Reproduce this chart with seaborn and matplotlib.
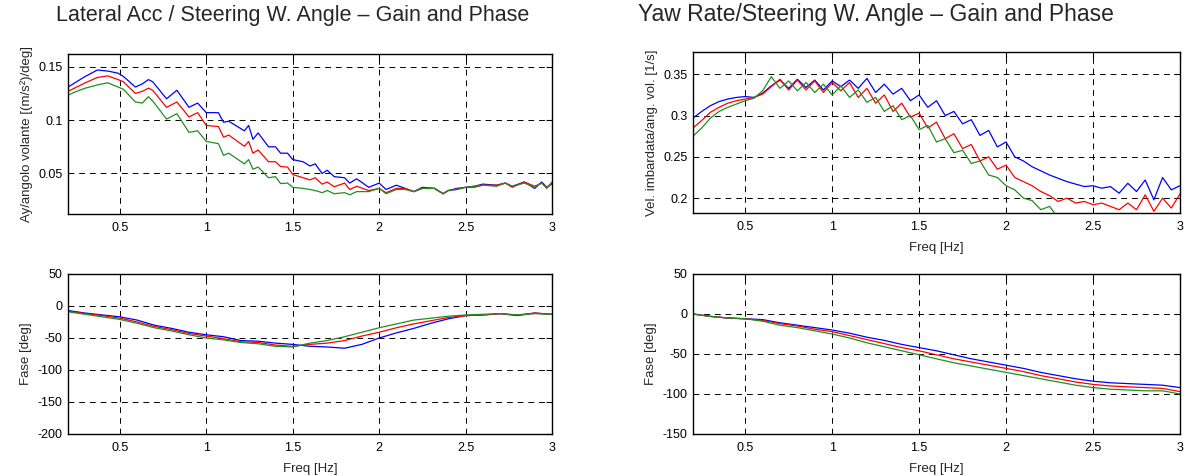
import numpy as np
import pandas as pd
import matplotlib
matplotlib.use("Agg")
import matplotlib.pyplot as plt
import seaborn as sns

# ---------------- data ----------------
series_names = ["A", "B", "C"]            # blue, red, green
series_colors = ["#0000ff", "#ff0000", "#1f8f1f"]

# Lateral acc / steering angle - gain
freq_lat_gain = [0.20, 0.25, 0.30, 0.37, 0.43, 0.49, 0.52, 0.59, 0.63, 0.665, 0.69, 0.77, 0.83, 0.90, 0.95,
                 1.00, 1.07, 1.10, 1.13, 1.22, 1.245, 1.27, 1.30, 1.36, 1.40, 1.43, 1.47, 1.50, 1.56, 1.60,
                 1.63, 1.67, 1.70, 1.74, 1.80, 1.83, 1.87, 1.94, 2.00, 2.04, 2.10, 2.15, 2.20, 2.25, 2.32,
                 2.37, 2.40, 2.45, 2.50, 2.55, 2.60, 2.68, 2.73, 2.77, 2.84, 2.90, 2.94, 2.97, 3.00]
lat_gain_blue = [0.131, 0.136, 0.141, 0.147, 0.146, 0.144, 0.141, 0.131, 0.134, 0.138, 0.136, 0.120, 0.128, 0.112, 0.116,
                 0.107, 0.107, 0.098, 0.099, 0.090, 0.095, 0.082, 0.088, 0.075, 0.075, 0.069, 0.069, 0.063, 0.061, 0.057,
                 0.059, 0.050, 0.053, 0.047, 0.046, 0.041, 0.045, 0.037, 0.041, 0.035, 0.039, 0.036, 0.033, 0.037, 0.036,
                 0.031, 0.034, 0.036, 0.037, 0.038, 0.040, 0.039, 0.041, 0.038, 0.042, 0.036, 0.042, 0.037, 0.041]
lat_gain_red = [0.127, 0.131, 0.135, 0.140, 0.1415, 0.138, 0.136, 0.125, 0.127, 0.130, 0.128, 0.112, 0.117, 0.103, 0.107,
                0.095, 0.094, 0.084, 0.086, 0.0755, 0.080, 0.069, 0.072, 0.061, 0.061, 0.0565, 0.056, 0.049, 0.046, 0.044,
                0.046, 0.040, 0.042, 0.0375, 0.041, 0.035, 0.038, 0.034, 0.036, 0.032, 0.036, 0.036, 0.033, 0.036, 0.036,
                0.031, 0.034, 0.035, 0.037, 0.037, 0.039, 0.039, 0.041, 0.037, 0.042, 0.038, 0.041, 0.037, 0.040]
lat_gain_green = [0.1235, 0.127, 0.130, 0.133, 0.135, 0.131, 0.129, 0.117, 0.116, 0.122, 0.118, 0.101, 0.106, 0.0885, 0.090,
                  0.080, 0.078, 0.067, 0.069, 0.059, 0.063, 0.054, 0.056, 0.046, 0.047, 0.0405, 0.041, 0.037, 0.036, 0.035,
                  0.034, 0.032, 0.034, 0.031, 0.032, 0.030, 0.033, 0.033, 0.036, 0.031, 0.035, 0.035, 0.033, 0.036, 0.036,
                  0.031, 0.034, 0.035, 0.037, 0.038, 0.039, 0.038, 0.041, 0.038, 0.041, 0.037, 0.041, 0.036, 0.042]

# Yaw rate / steering angle - gain
freq_yaw_gain = [0.20, 0.25, 0.30, 0.35, 0.40, 0.45, 0.50, 0.55, 0.60, 0.65, 0.70, 0.75, 0.80, 0.85, 0.90,
                 0.95, 1.00, 1.05, 1.10, 1.15, 1.20, 1.25, 1.30, 1.35, 1.40, 1.45, 1.50, 1.55, 1.60, 1.65,
                 1.70, 1.75, 1.80, 1.85, 1.90, 1.95, 2.00, 2.05, 2.10, 2.15, 2.20, 2.25, 2.30, 2.35, 2.40,
                 2.45, 2.50, 2.55, 2.60, 2.65, 2.70, 2.75, 2.80, 2.85, 2.90, 2.95, 3.00]
yaw_gain_blue = [0.297, 0.305, 0.312, 0.317, 0.320, 0.322, 0.323, 0.322, 0.327, 0.336, 0.343, 0.333, 0.344, 0.334, 0.343,
                 0.331, 0.342, 0.335, 0.343, 0.333, 0.345, 0.328, 0.338, 0.326, 0.333, 0.318, 0.325, 0.310, 0.318, 0.300,
                 0.305, 0.290, 0.295, 0.276, 0.282, 0.262, 0.268, 0.250, 0.245, 0.238, 0.233, 0.228, 0.224, 0.220, 0.217,
                 0.214, 0.215, 0.212, 0.214, 0.206, 0.218, 0.208, 0.222, 0.198, 0.225, 0.210, 0.215]
yaw_gain_red = [0.285, 0.294, 0.304, 0.310, 0.315, 0.318, 0.320, 0.322, 0.326, 0.335, 0.344, 0.331, 0.343, 0.331, 0.342,
                0.328, 0.340, 0.330, 0.340, 0.322, 0.333, 0.315, 0.325, 0.305, 0.315, 0.298, 0.303, 0.285, 0.292, 0.272,
                0.278, 0.260, 0.265, 0.245, 0.250, 0.235, 0.240, 0.225, 0.220, 0.215, 0.208, 0.203, 0.196, 0.200, 0.194,
                0.196, 0.192, 0.194, 0.190, 0.186, 0.194, 0.186, 0.204, 0.184, 0.200, 0.188, 0.205]
yaw_gain_green = [0.275, 0.285, 0.297, 0.305, 0.310, 0.314, 0.318, 0.321, 0.330, 0.347, 0.333, 0.342, 0.330, 0.340, 0.328,
                  0.338, 0.325, 0.336, 0.322, 0.331, 0.316, 0.322, 0.305, 0.312, 0.295, 0.300, 0.283, 0.288, 0.268, 0.272,
                  0.255, 0.258, 0.242, 0.245, 0.228, 0.225, 0.215, 0.210, 0.200, 0.197, 0.186, 0.190, 0.176, 0.172, 0.170,
                  0.168, 0.167, 0.166, 0.165, 0.164, 0.166, 0.163, 0.165, 0.162, 0.164, 0.163, 0.165]

# Phases
freq_phase = [0.2, 0.3, 0.4, 0.5, 0.6, 0.7, 0.8, 0.9, 1.0, 1.1, 1.2, 1.3, 1.4, 1.5, 1.6,
              1.7, 1.8, 1.9, 2.0, 2.1, 2.2, 2.3, 2.4, 2.5, 2.6, 2.7, 2.8, 2.9, 3.0]
lat_phase_blue = [-7, -11, -14, -17, -22, -30, -35, -41, -45, -48, -54, -55, -58, -60, -63,
                  -64, -66, -60, -50, -42, -35, -27, -20, -15, -14, -12, -15, -11, -13]
lat_phase_red = [-8, -12, -15, -19, -25, -32, -37, -43, -47, -51, -56, -57, -61, -63, -60,
                 -58, -54, -47, -41, -34, -28, -23, -18, -15, -14, -12, -14, -11, -13]
lat_phase_green = [-9, -13, -17, -21, -27, -34, -39, -45, -50, -53, -57, -59, -63, -64, -58,
                   -54, -48, -41, -34, -28, -22, -19, -16, -14, -13, -12, -14, -12, -13]
yaw_phase_blue = [0, -3, -5, -6, -7, -11, -14, -17, -20, -24, -29, -33, -38, -42, -46,
                  -51, -56, -60, -64, -68, -73, -77, -81, -84, -86, -87, -88, -89, -92]
yaw_phase_red = [0, -3, -5, -6, -8, -12, -15, -19, -22, -27, -32, -37, -42, -46, -51,
                 -56, -60, -64, -68, -72, -77, -81, -85, -88, -90, -91, -92, -93, -97]
yaw_phase_green = [0, -3, -5, -6, -9, -14, -17, -21, -25, -30, -36, -41, -46, -51, -56,
                   -61, -65, -69, -73, -77, -81, -85, -89, -92, -94, -95, -96, -96, -100]

x_ticks = [0.5, 1, 1.5, 2, 2.5, 3]
x_tick_labels = ["0.5", "1", "1.5", "2", "2.5", "3"]
lat_gain_ticks = [0.05, 0.1, 0.15]
yaw_gain_ticks = [0.2, 0.25, 0.3, 0.35]
lat_phase_ticks = [-200, -150, -100, -50, 0, 50]
yaw_phase_ticks = [-150, -100, -50, 0, 50]

title_left = "Lateral Acc / Steering W. Angle – Gain and Phase"
title_right = "Yaw Rate/Steering W. Angle – Gain and Phase"
xlabel = "Freq [Hz]"
ylabel_lat_gain = "Ay/angolo volante [(m/s²)/deg]"
ylabel_yaw_gain = "Vel. imbardata/ang. vol. [1/s]"
ylabel_phase = "Fase [deg]"

# ---------------- style ----------------
sns.set_style("white")
plt.rcParams["font.family"] = ["Liberation Sans", "DejaVu Sans"]

W, H = 1185, 476
fig = plt.figure(figsize=(W / 100, H / 100), dpi=100)


def add_ax(left, top, right, bottom):
    return fig.add_axes([left / W, 1 - bottom / H, (right - left) / W, (bottom - top) / H])


def long_df(freq, vals):
    rows = []
    for name, v in zip(series_names, vals):
        rows.append(pd.DataFrame({"f": freq, "v": v, "s": name}))
    return pd.concat(rows, ignore_index=True)


def draw(ax, freq, vals, ylim, yticks, ylab, show_xlabel):
    df = long_df(freq, vals)
    sns.lineplot(data=df, x="f", y="v", hue="s", palette=series_colors, estimator=None,
                 legend=False, linewidth=0.9, ax=ax)
    ax.set_xlim(0.2, 3.0)
    ax.set_ylim(*ylim)
    ax.set_xticks(x_ticks)
    ax.set_xticklabels(x_tick_labels)
    ax.set_yticks(yticks)
    ax.set_yticklabels([("%g" % t) for t in yticks])
    ax.grid(True, color="black", linestyle=(0, (6, 5)), linewidth=0.7)
    ax.tick_params(direction="in", top=True, right=True, length=4, width=0.8,
                   labelsize=9, colors="black")
    ax.tick_params(axis="y", pad=4)
    ax.tick_params(axis="x", pad=6)
    for sp in ax.spines.values():
        sp.set_color("black")
        sp.set_linewidth(1.0)
    ax.set_ylabel(ylab, fontsize=9.5)
    if show_xlabel:
        ax.set_xlabel(xlabel, fontsize=9.5, labelpad=6)
    else:
        ax.set_xlabel("")


ax1 = add_ax(68, 54, 552, 214)
draw(ax1, freq_lat_gain, [lat_gain_blue, lat_gain_red, lat_gain_green],
     (0.012, 0.162), lat_gain_ticks, ylabel_lat_gain, False)

ax2 = add_ax(68, 274, 552, 434)
draw(ax2, freq_phase, [lat_phase_blue, lat_phase_red, lat_phase_green],
     (-200, 50), lat_phase_ticks, ylabel_phase, True)

ax3 = add_ax(693, 52, 1180, 213)
draw(ax3, freq_yaw_gain, [yaw_gain_blue, yaw_gain_red, yaw_gain_green],
     (0.182, 0.377), yaw_gain_ticks, ylabel_yaw_gain, True)

ax4 = add_ax(693, 274, 1180, 434)
draw(ax4, freq_phase, [yaw_phase_blue, yaw_phase_red, yaw_phase_green],
     (-150, 50), yaw_phase_ticks, ylabel_phase, True)

fig.text(293 / W, 1 - 16 / H, title_left, ha="center", va="center", fontsize=15.5)
fig.text(876 / W, 1 - 15 / H, title_right, ha="center", va="center", fontsize=16.5)

fig.savefig("out.png", dpi=100, facecolor="white")
